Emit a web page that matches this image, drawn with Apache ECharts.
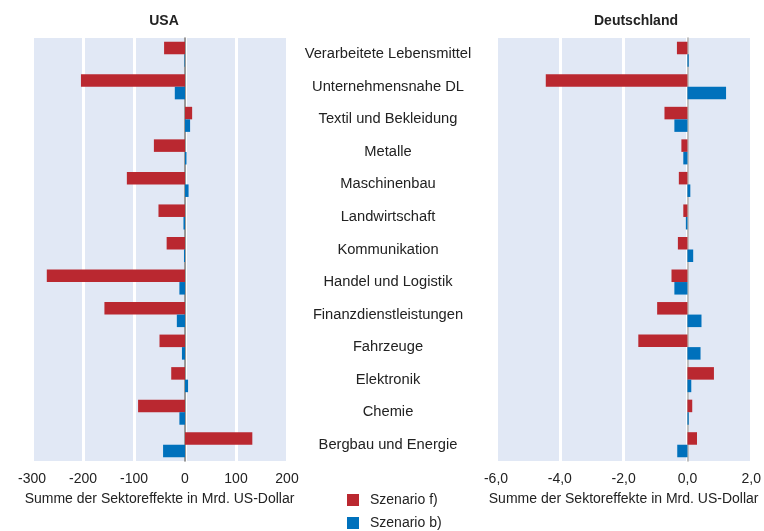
<!DOCTYPE html>
<html>
<head>
<meta charset="utf-8">
<script src="https://cdn.jsdelivr.net/npm/echarts@6/dist/echarts.min.js"></script>
<style>
  html, body { margin: 0; padding: 0; background: #fff; }
  #chart { width: 764px; height: 531px; }
</style>
</head>
<body>
<div id="chart"></div>
<script>
// Sektoren (oben nach unten)
const sectors = [
  "Verarbeitete Lebensmittel", "Unternehmensnahe DL", "Textil und Bekleidung",
  "Metalle", "Maschinenbau", "Landwirtschaft", "Kommunikation",
  "Handel und Logistik", "Finanzdienstleistungen", "Fahrzeuge",
  "Elektronik", "Chemie", "Bergbau und Energie"
];

// USA, Mrd. US-Dollar
const usaF = [-41, -204, 14, -61, -114, -52, -36, -271, -158, -50, -27, -92, 132];
const usaB = [-1, -20, 10, 3, 7, -3, -2, -11, -16, -6, 6, -11, -43];

// Deutschland, Mrd. US-Dollar
const deF = [-0.33, -4.44, -0.72, -0.19, -0.27, -0.13, -0.30, -0.50, -0.95, -1.54, 0.83, 0.15, 0.30];
const deB = [0.04, 1.21, -0.41, -0.13, 0.09, -0.05, 0.18, -0.41, 0.44, 0.41, 0.12, 0.04, -0.32];

const RED = "#BA2830";
const BLUE = "#0071BC";
const BG = "#E1E8F5";
const FONT = "Liberation Sans";

const chart = echarts.init(document.getElementById("chart"));

const xBase = {
  type: "value",
  nameLocation: "middle",
  nameGap: 31,
  name: "Summe der Sektoreffekte in Mrd. US-Dollar",
  nameTextStyle: { color: "#222", fontSize: 14, fontFamily: FONT },
  axisLine: { show: false },
  axisTick: { show: false },
  axisLabel: { color: "#222", fontSize: 14, fontFamily: FONT, margin: 11 },
  splitLine: { show: true, lineStyle: { color: "#fff", width: 3 } }
};

const option = {
  animation: false,
  textStyle: { fontFamily: FONT },
  title: [
    { text: "USA", left: 159, top: 9, textAlign: "center",
      textStyle: { fontSize: 14, fontWeight: "bold", color: "#222", fontFamily: FONT } },
    { text: "Deutschland", left: 631, top: 9, textAlign: "center",
      textStyle: { fontSize: 14, fontWeight: "bold", color: "#222", fontFamily: FONT } }
  ],
  legend: {
    orient: "vertical",
    left: 347,
    top: 493,
    padding: 0,
    itemWidth: 12,
    itemHeight: 12,
    itemGap: 9,
    icon: "rect",
    textStyle: { fontSize: 14, color: "#222", fontFamily: FONT, padding: [0, 0, 0, 6] },
    data: ["Szenario f)", "Szenario b)"]
  },
  grid: [
    { left: 32, right: 477, top: 38, bottom: 70, show: true, backgroundColor: BG, borderWidth: 0 },
    { left: 496, right: 12, top: 38, bottom: 70, show: true, backgroundColor: BG, borderWidth: 0 }
  ],
  xAxis: [
    Object.assign({}, xBase, { gridIndex: 0, min: -300, max: 200, interval: 100 }),
    Object.assign({}, xBase, {
      gridIndex: 1, min: -6, max: 2, interval: 2,
      axisLabel: Object.assign({}, xBase.axisLabel, {
        formatter: v => v.toFixed(1).replace(".", ",")
      })
    })
  ],
  yAxis: [
    { type: "category", gridIndex: 0, data: sectors, inverse: true,
      axisLine: { onZero: true, lineStyle: { color: "#777", width: 1.5 } },
      axisTick: { show: false }, axisLabel: { show: false }, splitLine: { show: false } },
    { type: "category", gridIndex: 0, data: sectors, inverse: true, position: "right",
      axisLine: { show: false, onZero: false }, axisTick: { show: false },
      axisLabel: { align: "center", margin: 101, fontSize: 14.7, color: "#222", fontFamily: FONT } },
    { type: "category", gridIndex: 1, data: sectors, inverse: true,
      axisLine: { onZero: true, lineStyle: { color: "#aaa", width: 1.5 } },
      axisTick: { show: false }, axisLabel: { show: false }, splitLine: { show: false } }
  ],
  series: [
    { name: "Szenario f)", type: "bar", xAxisIndex: 0, yAxisIndex: 0, data: usaF,
      itemStyle: { color: RED }, barGap: "0%", barCategoryGap: "23%" },
    { name: "Szenario b)", type: "bar", xAxisIndex: 0, yAxisIndex: 0, data: usaB,
      itemStyle: { color: BLUE }, barGap: "0%", barCategoryGap: "23%" },
    { name: "Szenario f)", type: "bar", xAxisIndex: 1, yAxisIndex: 2, data: deF,
      itemStyle: { color: RED }, barGap: "0%", barCategoryGap: "23%" },
    { name: "Szenario b)", type: "bar", xAxisIndex: 1, yAxisIndex: 2, data: deB,
      itemStyle: { color: BLUE }, barGap: "0%", barCategoryGap: "23%" }
  ]
};

chart.setOption(option);
</script>
</body>
</html>
